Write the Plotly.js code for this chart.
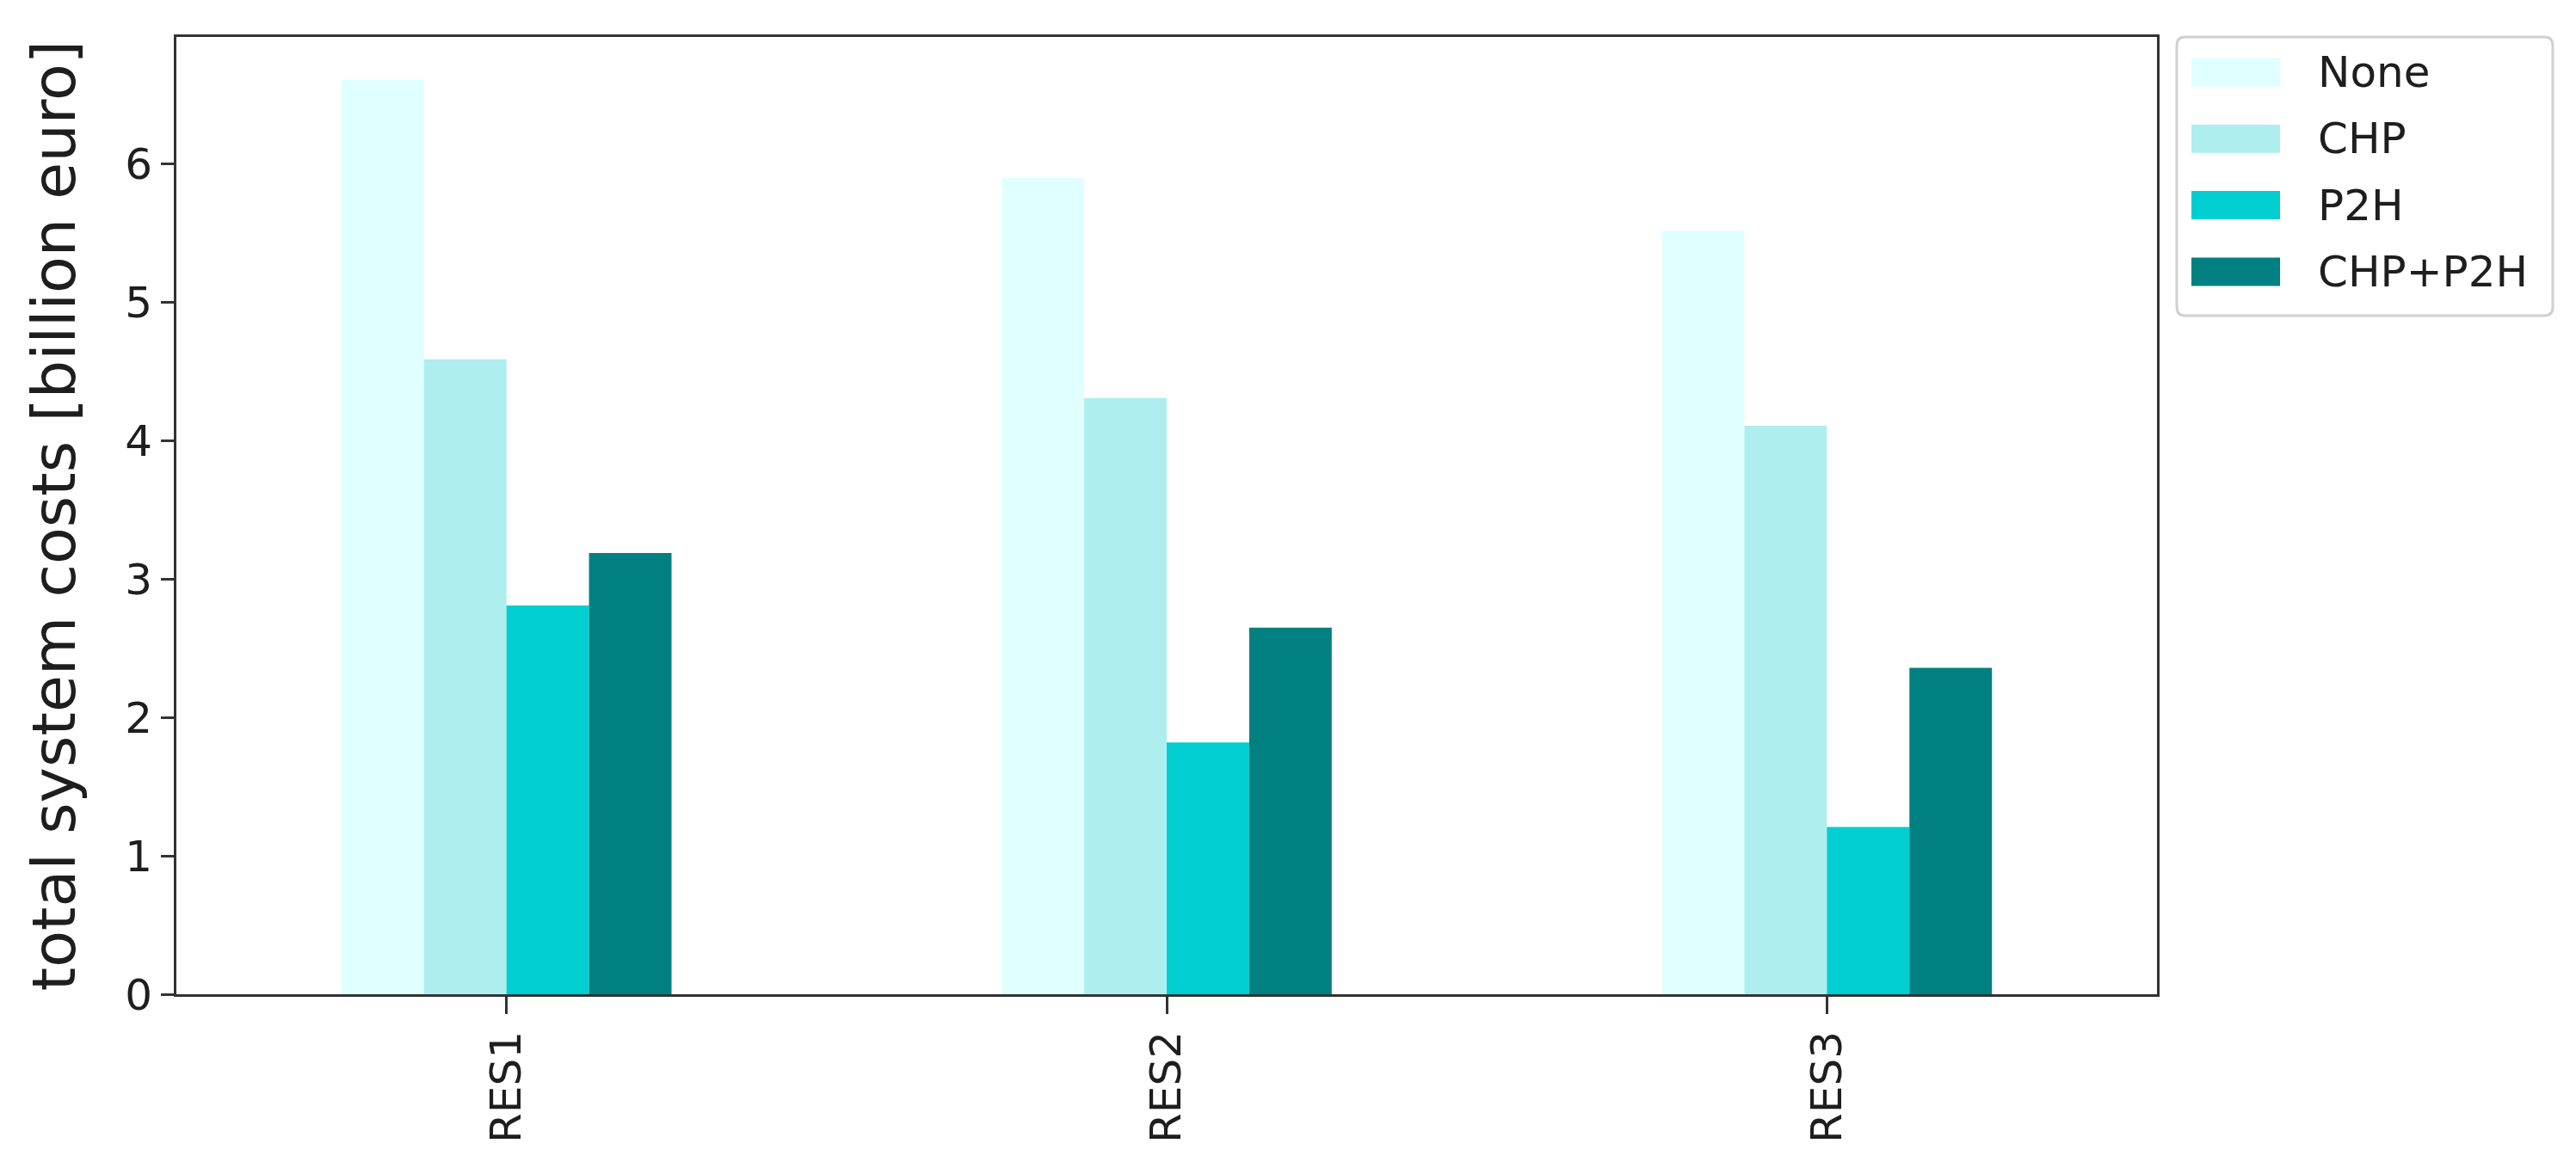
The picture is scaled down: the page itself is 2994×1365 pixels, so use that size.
<!DOCTYPE html>
<html>
<head>
<meta charset="utf-8">
<script src="https://cdn.plot.ly/plotly-3.0.1.min.js"></script>
<style>
  html, body { margin: 0; padding: 0; background: #fff; }
  #chart { width: 2994px; height: 1365px; }
</style>
</head>
<body>
<div id="chart"></div>
<script>
/* ---- Data (billion euro) ---- */
var scenarios = ['RES1', 'RES2', 'RES3'];
var seriesNames = ['None', 'CHP', 'P2H', 'CHP+P2H'];
var costNone   = [6.61, 5.90, 5.52];
var costChp    = [4.59, 4.31, 4.11];
var costP2h    = [2.81, 1.82, 1.21];
var costChpP2h = [3.19, 2.65, 2.36];
var seriesColors = ['#E0FFFF', '#AFEEEE', '#00CED1', '#008080'];

var seriesValues = [costNone, costChp, costP2h, costChpP2h];

/* ---- Geometry ---- */
var W = 2994, H = 1365;
var M = { l: 205, r: 487, t: 43, b: 209 };
var plotW = W - M.l - M.r, plotH = H - M.t - M.b;
var FONT = 'DejaVu Sans, sans-serif';

function px2x(px) { return (px - M.l) / plotW; }
function py2y(py) { return (H - M.b - py) / plotH; }

var traces = seriesNames.map(function(name, k) {
  return {
    type: 'bar',
    name: name,
    x: scenarios,
    y: seriesValues[k],
    marker: { color: seriesColors[k], line: { width: 0 } },
    showlegend: false
  };
});

/* ---- Hand-drawn legend (matplotlib-style large swatches) ---- */
// rounded frame, built as a path in paper coordinates
function roundedBox(x0, y0, x1, y1, r) {
  var X = function(v) { return px2x(v).toFixed(5); };
  var Y = function(v) { return py2y(v).toFixed(5); };
  return 'M' + X(x0 + r) + ',' + Y(y0) +
    ' L' + X(x1 - r) + ',' + Y(y0) + ' Q' + X(x1) + ',' + Y(y0) + ' ' + X(x1) + ',' + Y(y0 + r) +
    ' L' + X(x1) + ',' + Y(y1 - r) + ' Q' + X(x1) + ',' + Y(y1) + ' ' + X(x1 - r) + ',' + Y(y1) +
    ' L' + X(x0 + r) + ',' + Y(y1) + ' Q' + X(x0) + ',' + Y(y1) + ' ' + X(x0) + ',' + Y(y1 - r) +
    ' L' + X(x0) + ',' + Y(y0 + r) + ' Q' + X(x0) + ',' + Y(y0) + ' ' + X(x0 + r) + ',' + Y(y0) + ' Z';
}

var shapes = [{
  type: 'path', xref: 'paper', yref: 'paper',
  path: roundedBox(2530, 43, 2967, 367, 10),
  line: { color: '#d0d0d0', width: 3 }, fillcolor: '#ffffff'
}];
var annotations = [];
var rowTop = 84, rowStep = 77.3, swH = 33;
seriesNames.forEach(function(name, k) {
  var cy = rowTop + k * rowStep;
  shapes.push({
    type: 'rect', xref: 'paper', yref: 'paper',
    x0: px2x(2547), x1: px2x(2650),
    y0: py2y(cy + swH / 2), y1: py2y(cy - swH / 2),
    line: { width: 0 }, fillcolor: seriesColors[k]
  });
  annotations.push({
    xref: 'paper', yref: 'paper', x: px2x(2692), y: py2y(cy),
    xanchor: 'left', yanchor: 'middle', showarrow: false,
    text: name, font: { family: FONT, size: 50, color: '#1e1e1e' }
  });
});

var layout = {
  width: W, height: H,
  margin: M,
  paper_bgcolor: '#fff', plot_bgcolor: '#fff',
  barmode: 'group', bargap: 0.5, bargroupgap: 0,
  font: { family: FONT, size: 50, color: '#1e1e1e' },
  xaxis: {
    type: 'category', range: [-0.5, 2.5],
    showgrid: false, zeroline: false,
    showline: true, mirror: true, linecolor: '#333', linewidth: 3,
    ticks: 'outside', ticklen: 20, tickwidth: 3, tickcolor: '#333',
    tickangle: -90, tickfont: { family: FONT, size: 50, color: '#1e1e1e' }
  },
  yaxis: {
    range: [0, 6.92], dtick: 1, tick0: 0,
    showgrid: false, zeroline: false,
    showline: true, mirror: true, linecolor: '#333', linewidth: 3,
    ticks: 'outside', ticklen: 15, tickwidth: 3, tickcolor: '#333',
    tickfont: { family: FONT, size: 50, color: '#1e1e1e' },
    title: { text: 'total system costs [billion euro]', standoff: 35,
             font: { family: FONT, size: 70, color: '#1e1e1e' } }
  },
  shapes: shapes,
  annotations: annotations,
  showlegend: false
};

Plotly.newPlot('chart', traces, layout, { displayModeBar: false, staticPlot: true });
</script>
</body>
</html>
